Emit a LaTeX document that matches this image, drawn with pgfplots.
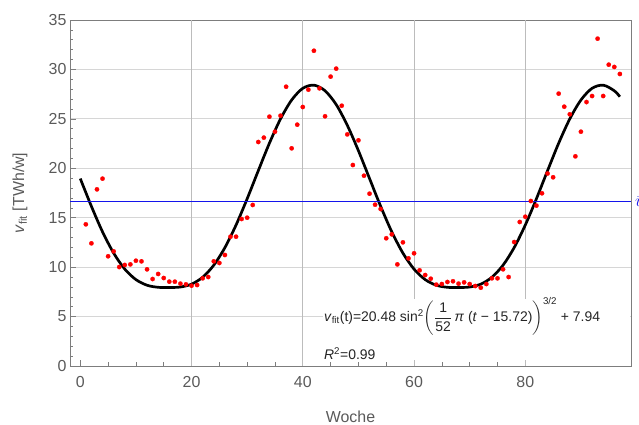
\documentclass[border=0pt]{standalone}
\usepackage{fontspec}
\setmainfont{Liberation Sans}
\usepackage{amsmath}
\usepackage{pgfplots}
\pgfplotsset{compat=1.18}
\definecolor{tickgray}{RGB}{90,90,90}
\definecolor{framegray}{RGB}{125,125,125}
\definecolor{vgrid}{RGB}{188,188,188}
\definecolor{hgrid}{RGB}{214,214,214}
\definecolor{ptred}{RGB}{255,0,0}
\definecolor{meanblue}{RGB}{20,20,235}

\pgfplotstableread{
t v
1 14.33
2 12.41
3 17.87
4 18.95
5 11.10
6 11.60
7 10.01
8 10.22
9 10.28
10 10.65
11 10.59
12 9.78
13 8.80
14 9.31
15 8.90
16 8.53
17 8.53
18 8.33
19 8.26
20 8.12
21 8.19
22 8.87
23 9.00
24 10.59
25 10.42
26 11.23
27 13.08
28 13.08
29 14.87
30 15.00
31 16.29
32 22.66
33 23.10
34 25.22
35 23.70
36 25.32
37 28.25
38 22.02
39 24.41
40 26.20
41 27.95
42 31.89
43 28.09
44 25.26
45 29.27
46 30.08
47 26.33
48 23.43
49 20.33
50 22.83
51 19.25
52 17.43
53 16.32
54 15.88
55 12.92
56 13.32
57 10.28
58 12.51
59 10.89
60 11.40
61 9.68
62 9.20
63 8.83
64 8.23
65 8.29
66 8.50
67 8.57
68 8.33
69 8.46
70 8.29
71 8.09
72 7.92
73 8.29
74 8.87
75 8.87
76 9.78
77 9.00
78 12.54
79 14.57
80 15.10
81 16.69
82 16.22
83 17.47
84 19.47
85 19.09
86 27.55
87 26.23
88 25.46
89 21.21
90 23.70
91 26.70
92 27.31
93 33.11
94 27.31
95 30.48
96 30.25
97 29.54
}\datatable

\pgfplotstableread{
t v
0 18.96
2 16.15
4 13.57
6 11.42
8 9.80
10 8.74
12 8.17
14 7.96
16 7.94
18 7.99
20 8.28
22 8.98
24 10.20
26 11.98
28 14.26
30 16.92
32 19.76
34 22.54
36 25.00
38 26.91
40 28.09
42 28.41
44 27.84
46 26.45
48 24.35
50 21.78
52 18.96
54 16.15
56 13.57
58 11.42
60 9.80
62 8.74
64 8.17
66 7.96
68 7.94
70 7.99
72 8.28
74 8.98
76 10.20
78 11.98
80 14.26
82 16.92
84 19.76
86 22.54
88 25.00
90 26.91
92 28.09
94 28.41
96 27.84
97 27.24
}\fittable

\begin{document}
\begin{tikzpicture}
\useasboundingbox (-70bp,-59bp) rectangle (569bp,366bp);
\begin{axis}[
  scale only axis, width=561bp, height=346bp,
  xmin=-1.85, xmax=99, ymin=0, ymax=35,
  axis line style={framegray, line width=0.8pt},
  xtick={0,20,40,60,80}, minor x tick num=3,
  ytick={0,5,...,35}, minor y tick num=4,
  tick align=inside, tick pos=left,
  major tick length=6bp, minor tick length=3.5bp,
  tick style={framegray, line width=0.6pt},
  ymajorgrids, major y grid style={hgrid, line width=0.8pt},
  extra x ticks={20,40,60,80}, extra x tick labels={},
  extra x tick style={xmajorgrids=true, major tick length=0pt, major x grid style={vgrid, line width=0.8pt}},
  /pgf/number format/assume math mode=true,
  ticklabel style={font=\fontsize{16}{18}\selectfont, text=tickgray},
  xticklabel style={yshift=-7bp},
  xlabel={Woche},
  xlabel style={font=\fontsize{16}{18}\selectfont, text=tickgray, at={(axis description cs:0.5,-0.1465)}, anchor=center},
  ylabel={\textit{v}\textsubscript{fit} [TWh/w]},
  ylabel style={font=\fontsize{16}{18}\selectfont, text=tickgray, at={(axis description cs:-0.089,0.5)}, anchor=center},
]
% fit curve
\addplot[black, no markers, line width=2.7pt, smooth] table[x=t, y=v] {\fittable};
% mean line (thin filled band at 16.66)
\addplot[fill=meanblue, draw=none, no markers] coordinates {(-1.85,16.595) (99,16.595) (99,16.725) (-1.85,16.725)};
% data
\addplot[ptred, only marks, mark=*, mark size=2.2bp, mark options={fill=ptred, draw=ptred, line width=0.2pt}] table[x=t, y=v] {\datatable};
% white label box
\fill[white] (axis cs:43.6,0.65) rectangle (axis cs:98.9,6.75);
\node[anchor=base west, inner sep=0pt, font=\fontsize{14}{16}\selectfont, text=black!85] at (axis cs:43.8,4.48)
  {\textit{v}\textsubscript{fit}(t)=20.48 sin\textsuperscript{2}$\left(\dfrac{\text{1}}{\text{52}}\,\text{\textit{π} (\textit{t} − 15.72)}\right)^{\text{3/2}}$ + 7.94};
\node[anchor=base west, inner sep=0pt, font=\fontsize{14}{16}\selectfont, text=black!85] at (axis cs:43.8,0.61)
  {\textit{R}\textsuperscript{2}=0.99};
\coordinate (bl) at (axis cs:99,16.66);
\end{axis}
\node[anchor=west, inner sep=0pt, text=meanblue, font=\fontsize{16}{18}\selectfont] at ([xshift=4bp]bl) {$\bar{v}$};
\end{tikzpicture}
\end{document}
